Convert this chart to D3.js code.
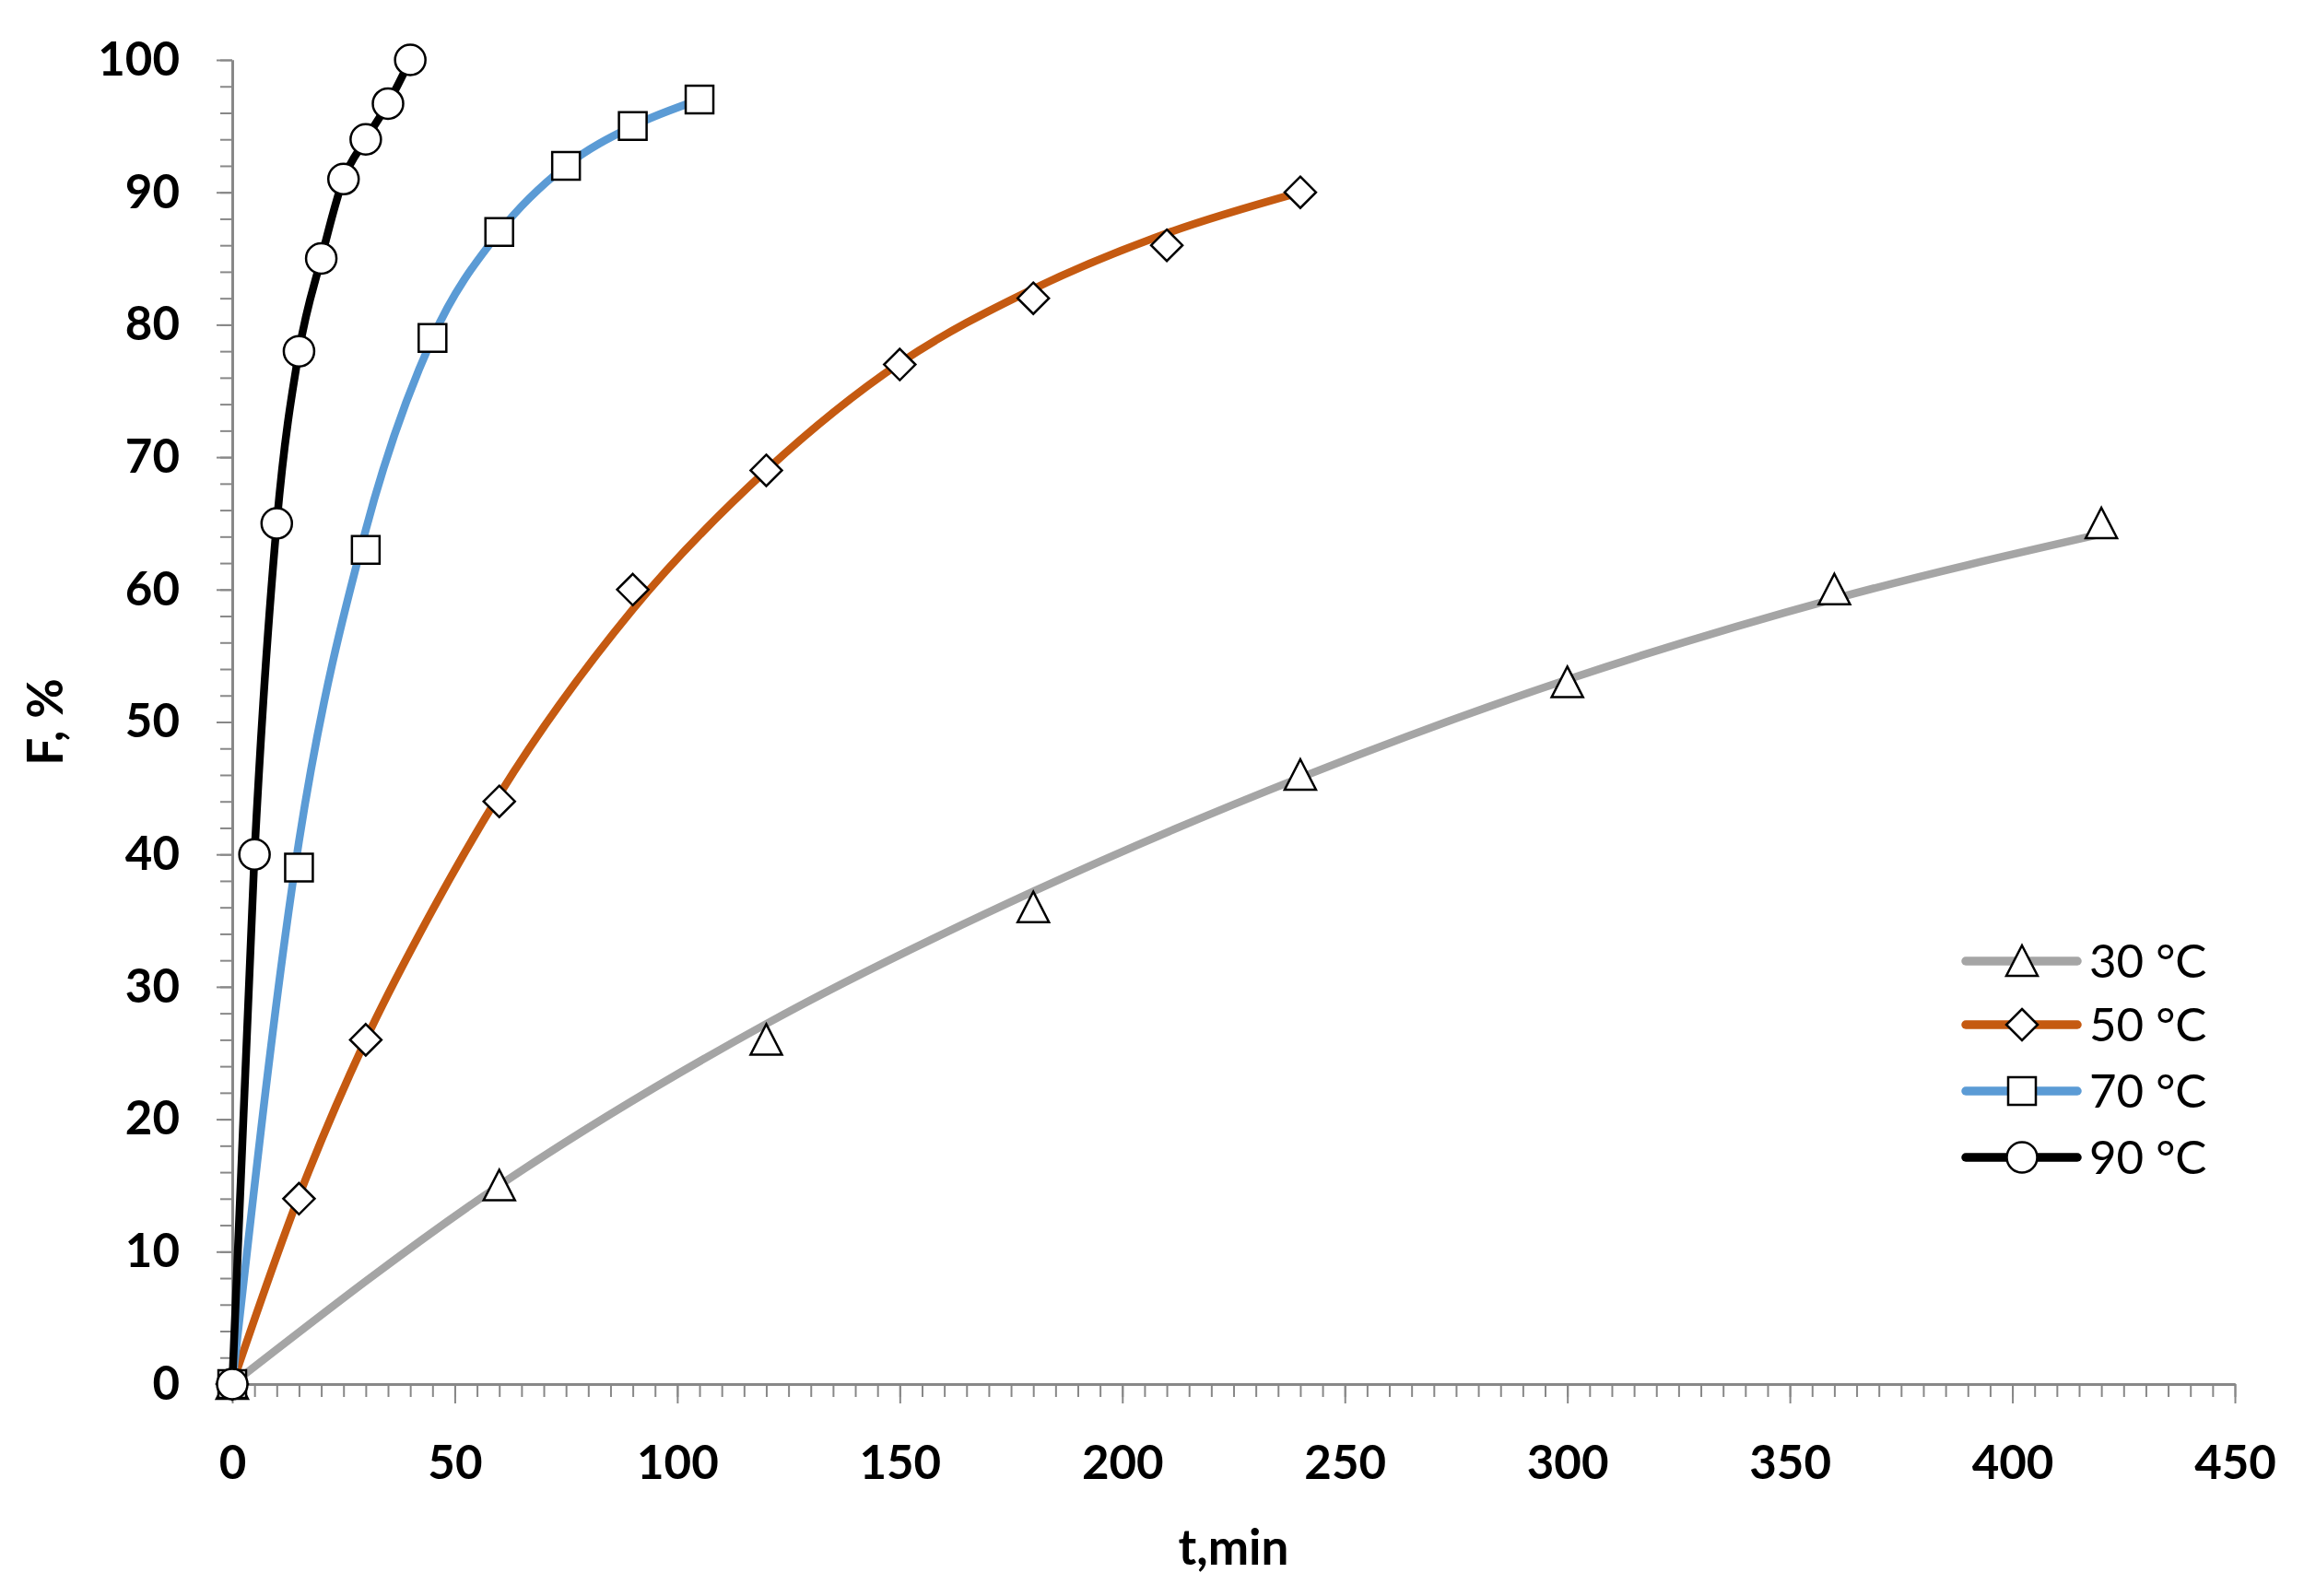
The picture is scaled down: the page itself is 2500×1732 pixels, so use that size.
<!DOCTYPE html>
<html>
<head>
<meta charset="utf-8">
<script src="https://cdn.jsdelivr.net/npm/d3@7/dist/d3.min.js"></script>
<style>
  html, body { margin: 0; padding: 0; background: #fff; }
  svg { display: block; }
</style>
</head>
<body>
<svg id="chart" width="2500" height="1732"></svg>
<script>
// ---------- data ----------
const seriesNames = ["30 °C", "50 °C", "70 °C", "90 °C"];

// measured points (t in min, F in %)
const t30 = [0, 60, 120, 180, 240, 300, 360, 420];
const f30 = [0, 15, 26, 36, 46, 53, 60, 65];
const t50 = [0, 15, 30, 60, 90, 120, 150, 180, 210, 240];
const f50 = [0, 14, 26, 44, 60, 69, 77, 82, 86, 90];
const t70 = [0, 15, 30, 45, 60, 75, 90, 105];
const f70 = [0, 39, 63, 79, 87, 92, 95, 97];
const t90 = [0, 5, 10, 15, 20, 25, 30, 35, 40];
const f90 = [0, 40, 65, 78, 85, 91, 94, 96.7, 100];

// fitted curve values
const ct30 = [0, 60, 120, 180, 240, 300, 360, 420];
const cf30 = [0, 15, 27.2, 37.2, 45.8, 53.2, 59.3, 64.2];
const ct50 = [0, 15, 30, 45, 60, 90, 120, 150, 180, 210, 240];
const cf50 = [0, 14.2, 26, 35.8, 44.5, 58.5, 69, 77.1, 82.7, 86.9, 90];
const ct70 = [0, 15, 30, 45, 60, 75, 90, 105];
const cf70 = [0, 41, 64.5, 79, 87, 92, 95, 97];
const ct90 = [0, 5, 10, 15, 20, 25, 30, 35, 40];
const cf90 = [0, 40, 65, 78, 85, 91, 94, 96.7, 100];

const xMajorTicks = [0, 50, 100, 150, 200, 250, 300, 350, 400, 450];
const yMajorTicks = [0, 10, 20, 30, 40, 50, 60, 70, 80, 90, 100];

// ---------- styles ----------
const colors = ["#A5A5A5", "#C55A11", "#5B9BD5", "#000000"];
const markers = ["triangle", "diamond", "square", "circle"];

const series = [
  { name: seriesNames[0], t: t30, f: f30, ct: ct30, cf: cf30 },
  { name: seriesNames[1], t: t50, f: f50, ct: ct50, cf: cf50 },
  { name: seriesNames[2], t: t70, f: f70, ct: ct70, cf: cf70 },
  { name: seriesNames[3], t: t90, f: f90, ct: ct90, cf: cf90 }
];

const L = 252, R = 2425, T = 65, B = 1502;
const svg = d3.select("#chart");
const x = d3.scaleLinear().domain([0, 450]).range([L, R]);
const y = d3.scaleLinear().domain([0, 100]).range([B, T]);

const axisColor = "#888888";
const fontFam = "Lato, 'Open Sans', sans-serif";

// minor ticks
const xMinor = svg.append("g").attr("transform", `translate(0,${B})`)
  .call(d3.axisBottom(x).tickValues(d3.range(0, 451, 5)).tickSize(14).tickSizeOuter(0).tickFormat(""));
const yMinor = svg.append("g").attr("transform", `translate(${L},0)`)
  .call(d3.axisLeft(y).tickValues(d3.range(0, 101, 2)).tickSize(13).tickSizeOuter(0).tickFormat(""));
// major ticks
const xMajor = svg.append("g").attr("transform", `translate(0,${B})`)
  .call(d3.axisBottom(x).tickValues(xMajorTicks).tickSize(21).tickSizeOuter(0).tickPadding(46).tickFormat(d3.format("d")));
const yMajor = svg.append("g").attr("transform", `translate(${L},0)`)
  .call(d3.axisLeft(y).tickValues(yMajorTicks).tickSize(17).tickSizeOuter(0).tickPadding(40).tickFormat(d3.format("d")));

[xMinor, yMinor, xMajor, yMajor].forEach(g => {
  g.selectAll("path.domain").attr("stroke", axisColor).attr("stroke-width", 3);
  g.selectAll(".tick line").attr("stroke", axisColor).attr("stroke-width", 2);
  g.selectAll("text").attr("fill", "#000").attr("font-family", fontFam)
    .attr("font-weight", 700).attr("font-size", 51);
});

// axis titles
svg.append("text")
  .attr("x", (L + R) / 2).attr("y", 1698)
  .attr("text-anchor", "middle")
  .attr("font-family", fontFam).attr("font-weight", 700).attr("font-size", 53)
  .text("t,min");
svg.append("text")
  .attr("transform", `translate(68,${(T + B) / 2}) rotate(-90)`)
  .attr("text-anchor", "middle")
  .attr("font-family", fontFam).attr("font-weight", 700).attr("font-size", 53)
  .text("F, %");

// marker path generator (sizes in px)
function markerPath(type) {
  const p = d3.path();
  if (type === "circle") {
    p.arc(0, 0, 16.5, 0, 2 * Math.PI);
  } else if (type === "square") {
    p.rect(-15, -15, 30, 30);
  } else if (type === "diamond") {
    p.moveTo(0, -17); p.lineTo(17, 0); p.lineTo(0, 17); p.lineTo(-17, 0); p.closePath();
  } else if (type === "triangle") {
    p.moveTo(0, -17); p.lineTo(17, 16); p.lineTo(-17, 16); p.closePath();
  }
  return p.toString();
}

const line = d3.line().x(d => x(d[0])).y(d => y(d[1])).curve(d3.curveMonotoneX);

series.forEach((s, i) => {
  const g = svg.append("g");
  const curvePts = s.ct.map((t, k) => [t, s.cf[k]]);
  g.append("path")
    .attr("d", line(curvePts))
    .attr("fill", "none")
    .attr("stroke", colors[i])
    .attr("stroke-width", 8.5)
    .attr("stroke-linejoin", "round")
    .attr("stroke-linecap", "round");
  const pts = s.t.map((t, k) => [t, s.f[k]]);
  g.selectAll("path.mk").data(pts).enter().append("path")
    .attr("class", "mk")
    .attr("d", markerPath(markers[i]))
    .attr("transform", d => `translate(${x(d[0])},${y(d[1])})`)
    .attr("fill", "#fff")
    .attr("stroke", "#000")
    .attr("stroke-width", 2.5);
});

// legend
const legY = [1043, 1112, 1184, 1256];
const lg = svg.append("g");
series.forEach((s, i) => {
  const row = lg.append("g").attr("transform", `translate(0,${legY[i]})`);
  row.append("line")
    .attr("x1", 2133).attr("x2", 2254).attr("y1", 0).attr("y2", 0)
    .attr("stroke", colors[i]).attr("stroke-width", 9.5).attr("stroke-linecap", "round");
  row.append("path")
    .attr("d", markerPath(markers[i]))
    .attr("transform", "translate(2194,0)")
    .attr("fill", "#fff").attr("stroke", "#000").attr("stroke-width", 2.5);
  row.append("text")
    .attr("x", 2267).attr("y", 0).attr("dy", "0.36em")
    .attr("font-family", fontFam).attr("font-size", 51).attr("fill", "#000")
    .text(s.name);
});
</script>
</body>
</html>
